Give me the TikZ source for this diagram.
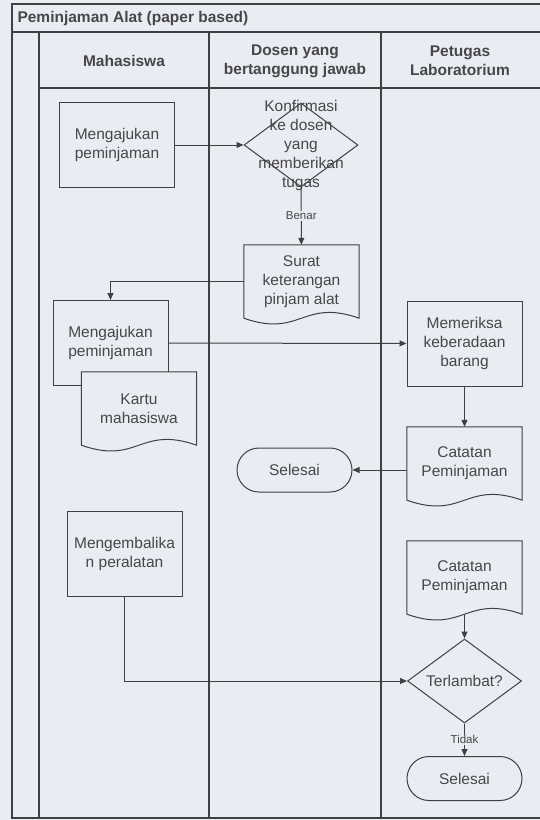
\documentclass[tikz,border=0pt]{standalone}
\usepackage{fontspec}
\setmainfont{Liberation Sans}
\usetikzlibrary{shapes.geometric,arrows.meta}

\definecolor{paper}{HTML}{E9ECF2}
\definecolor{ink}{HTML}{404040}
\definecolor{txtgrey}{HTML}{474747}

\tikzset{
  base/.style={font=\fontsize{15.5}{19}\selectfont, text=txtgrey, align=center},
  proc/.style={base, draw=ink, line width=1pt, fill=paper, minimum width=115pt, minimum height=85pt, inner sep=0pt},
  doc/.style={base, fill=paper, minimum width=115pt, minimum height=73pt, inner sep=0pt},
  dec/.style={draw=ink, line width=1pt, diamond, minimum width=114pt, minimum height=84pt, inner sep=0pt},
  term/.style={base, draw=ink, line width=1pt, fill=paper, rounded corners=22pt, minimum width=115pt, minimum height=44pt},
  hdr/.style={font=\bfseries\fontsize{15.5}{19}\selectfont, text=txtgrey, align=center},
  lbl/.style={font=\fontsize{11.5}{13}\selectfont, text=txtgrey, fill=paper, inner sep=1pt},
  arr/.style={draw=ink, line width=1pt, -{Triangle[length=7pt,width=6pt]}},
  frame/.style={draw=ink, line width=1.3pt},
  lane/.style={draw=ink, line width=1.7pt},
  docedge/.style={draw=ink, line width=1pt}
}

\newcommand{\docline}[1]{%
  \draw[docedge] (#1.south west) -- (#1.north west) -- (#1.north east) -- (#1.south east)
    .. controls ([xshift=-57pt,yshift=20pt]#1.south east) and ([xshift=57pt,yshift=-20pt]#1.south west) .. (#1.south west);}

\begin{document}
\begin{tikzpicture}[x=1pt, y=-1pt]

% background and frame
\fill[paper] (0,0) rectangle (540,820);
\useasboundingbox (0,0) rectangle (540,820);
\draw[frame] (540,4) -- (12,4) -- (12,818) -- (540,818);
\draw[frame] (12,32) -- (540,32);
\draw[lane] (39,88) -- (540,88);
\foreach \x in {39,209,381} \draw[lane] (\x,32) -- (\x,818);

% headers
\node[hdr, anchor=west] (title) at (14,18) {Peminjaman Alat (paper based)};
\node[hdr] (mhs) at (124,61) {Mahasiswa};
\node[hdr] (dsn) at (295,61) {Dosen yang\\bertanggung jawab};
\node[hdr] (ptg) at (460,61) {Petugas\\Laboratorium};

% steps
\node[proc] (ajukan) at (117,145) {Mengajukan\\peminjaman};
\node[dec, label={[base]center:{Konfirmasi\\ke dosen\\yang\\memberikan\\tugas}}] (konf) at (301,145) {};
\node[doc] (surat) at (301.5,281.5) {Surat\\keterangan\\pinjam alat};
\docline{surat}
\node[proc] (ajukan2) at (110.5,343) {Mengajukan\\peminjaman};
\node[doc] (kartu) at (139,408.5) {Kartu\\mahasiswa};
\docline{kartu}
\node[proc] (periksa) at (464.5,343.5) {Memeriksa\\keberadaan\\barang};
\node[doc] (catat1) at (464.5,463.5) {Catatan\\Peminjaman};
\docline{catat1}
\node[term] (selesai1) at (294.5,470) {Selesai};
\node[proc] (kembali) at (124.5,553.5) {Mengembalika\\n peralatan};
\node[doc] (catat2) at (464.5,577.5) {Catatan\\Peminjaman};
\docline{catat2}
\node[dec, label={[base]center:{Terlambat?}}] (telat) at (464.5,681) {};
\node[term] (selesai2) at (464.5,778.5) {Selesai};

% flow
\draw[arr] (ajukan) -- (konf);
\draw[arr] (konf) -- node[lbl] {Benar} (surat);
\draw[arr] (surat.west) -| (ajukan2.north);
\draw[arr] (ajukan2) -- (periksa);
\draw[arr] (periksa) -- (catat1);
\draw[arr] (catat1.west |- selesai1) -- (selesai1);
\draw[arr] (kembali) |- (telat);
\draw[arr] (catat2) -- (telat);
\draw[arr] (telat) -- node[lbl] {Tidak} (selesai2);

\end{tikzpicture}
\end{document}
